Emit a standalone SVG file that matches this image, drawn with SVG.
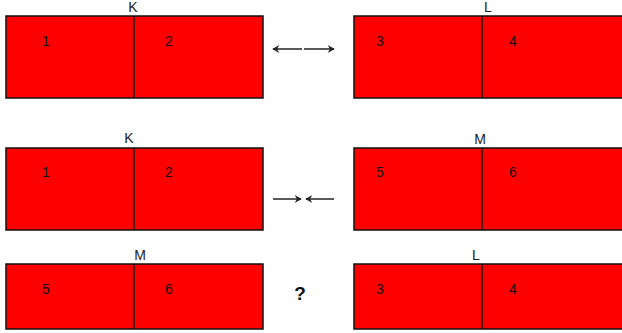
<svg xmlns="http://www.w3.org/2000/svg" width="622" height="333" viewBox="0 0 622 333">
<style>
.box{fill:#ff0000;stroke:#111;stroke-width:1.5}
.div{stroke:#111;stroke-width:1.5}
.lbl{font-family:"Liberation Sans",Arial,sans-serif;font-size:14px;fill:#1a1a2a;text-anchor:middle}
.num{font-family:"Liberation Sans",Arial,sans-serif;font-size:14px;fill:#111;text-anchor:middle}
.q{font-family:"Liberation Sans",Arial,sans-serif;font-size:19px;font-weight:bold;fill:#111;text-anchor:middle}
.arr{stroke:#222;stroke-width:1.5;fill:none}
</style>
<defs>
<marker id="ah" viewBox="0 0 10 10" refX="9" refY="5" markerWidth="8" markerHeight="8" markerUnits="userSpaceOnUse" orient="auto">
<path d="M1,0 L10,5 L1,10 L4,5 Z" fill="#222"/>
</marker>
</defs>
<g id="K1">
<rect class="box" x="6" y="16" width="257" height="82"/>
<line class="div" x1="134" y1="16" x2="134" y2="98"/>
<text class="lbl" x="133" y="12">K</text>
<text class="num" x="46" y="46">1</text>
<text class="num" x="169" y="46">2</text>
</g>
<g id="L1">
<rect class="box" x="354" y="16" width="280" height="82"/>
<line class="div" x1="482" y1="16" x2="482" y2="98"/>
<text class="lbl" x="488" y="12">L</text>
<text class="num" x="380" y="46">3</text>
<text class="num" x="513" y="46">4</text>
</g>
<g id="K2">
<rect class="box" x="6" y="148" width="257" height="82"/>
<line class="div" x1="134" y1="148" x2="134" y2="230"/>
<text class="lbl" x="129" y="143">K</text>
<text class="num" x="46" y="177">1</text>
<text class="num" x="169" y="177">2</text>
</g>
<g id="M2">
<rect class="box" x="354" y="148" width="280" height="82"/>
<line class="div" x1="482" y1="148" x2="482" y2="230"/>
<text class="lbl" x="480" y="144">M</text>
<text class="num" x="380" y="177">5</text>
<text class="num" x="513" y="177">6</text>
</g>
<g id="M3">
<rect class="box" x="6" y="264" width="257" height="65"/>
<line class="div" x1="134" y1="264" x2="134" y2="329"/>
<text class="lbl" x="140" y="260">M</text>
<text class="num" x="46" y="294">5</text>
<text class="num" x="169" y="294">6</text>
</g>
<g id="L3">
<rect class="box" x="354" y="264" width="280" height="65"/>
<line class="div" x1="482" y1="264" x2="482" y2="329"/>
<text class="lbl" x="476" y="260">L</text>
<text class="num" x="380" y="294">3</text>
<text class="num" x="513" y="294">4</text>
</g>
<g id="question">
<text class="q" x="300" y="300">?</text>
</g>
<g id="connectors">
<line class="arr" x1="302" y1="49" x2="273" y2="49" marker-end="url(#ah)"/>
<line class="arr" x1="304" y1="49" x2="334" y2="49" marker-end="url(#ah)"/>
<line class="arr" x1="273" y1="199" x2="301" y2="199" marker-end="url(#ah)"/>
<line class="arr" x1="334" y1="199" x2="306" y2="199" marker-end="url(#ah)"/>
</g>
</svg>
